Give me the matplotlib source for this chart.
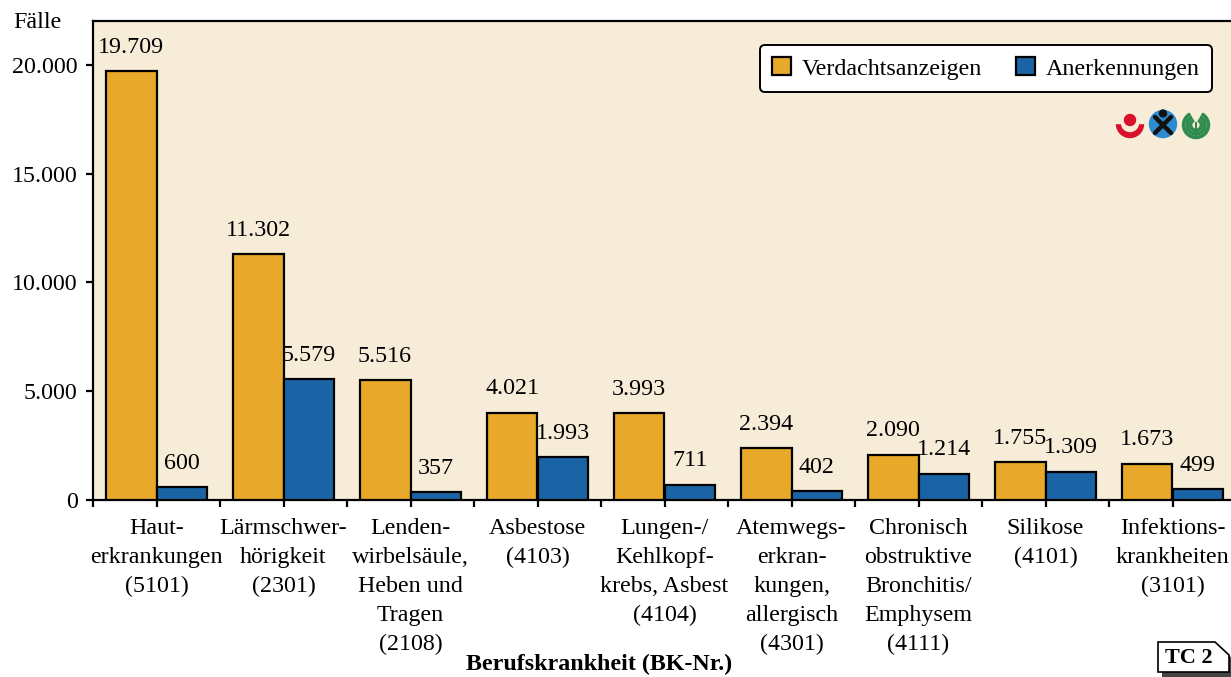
import matplotlib.pyplot as plt
import numpy as np
from matplotlib.patches import Circle, Wedge, Polygon, Rectangle
from matplotlib.ticker import FuncFormatter

plt.rcParams['font.family'] = ['Liberation Serif', 'DejaVu Serif']
FS = 17.3
plt.rcParams['font.size'] = FS

categories = [
    "Haut-\nerkrankungen\n(5101)",
    "Lärmschwer-\nhörigkeit\n(2301)",
    "Lenden-\nwirbelsäule,\nHeben und\nTragen\n(2108)",
    "Asbestose\n(4103)",
    "Lungen-/\nKehlkopf-\nkrebs, Asbest\n(4104)",
    "Atemwegs-\nerkran-\nkungen,\nallergisch\n(4301)",
    "Chronisch\nobstruktive\nBronchitis/\nEmphysem\n(4111)",
    "Silikose\n(4101)",
    "Infektions-\nkrankheiten\n(3101)",
]
verdacht = [19709, 11302, 5516, 4021, 3993, 2394, 2090, 1755, 1673]
anerkannt = [600, 5579, 357, 1993, 711, 402, 1214, 1309, 499]

ORANGE = "#E8A82A"
BLUE = "#1A64A6"
BG = "#F7ECD8"

W, H = 1231, 677
fig = plt.figure(figsize=(W / 100, H / 100), dpi=100)
ax = fig.add_axes([93 / W, 1 - 500 / H, (1236 - 93) / W, (500 - 21) / H])
ax.set_facecolor(BG)

x = np.arange(len(categories))
bw = 0.4
b1 = ax.bar(x - bw / 2, verdacht, bw, color=ORANGE, edgecolor="black", linewidth=1.6,
            label="Verdachtsanzeigen", zorder=3)
b2 = ax.bar(x + bw / 2, anerkannt, bw, color=BLUE, edgecolor="black", linewidth=1.6,
            label="Anerkennungen", zorder=3)

def de_num(v):
    return f"{int(v):,}".replace(",", ".")

for bars, vals in ((b1, verdacht), (b2, anerkannt)):
    for rect, v in zip(bars, vals):
        ax.annotate(de_num(v), (rect.get_x() + rect.get_width() / 2, v),
                    xytext=(0, 17), textcoords="offset points",
                    ha="center", va="center", fontsize=FS)

ax.set_xlim(-0.5, len(categories) - 0.5)
ax.set_ylim(0, 22020)
ax.set_yticks([0, 5000, 10000, 15000, 20000])
ax.yaxis.set_major_formatter(FuncFormatter(lambda v, p: de_num(v)))

# ticks at group borders and group centres, labels only at centres
pos = np.arange(-0.5, len(categories), 0.5)
labels = []
for p in pos:
    if float(p).is_integer():
        labels.append(categories[int(p)])
    else:
        labels.append("")
ax.set_xticks(pos)
ax.set_xticklabels(labels, linespacing=1.5, fontsize=FS)
ax.tick_params(axis="both", direction="out", length=5, width=1.6, labelsize=FS)
ax.tick_params(axis="x", pad=8)
ax.tick_params(axis="y", pad=6)

for s in ("left", "top", "bottom"):
    ax.spines[s].set_linewidth(1.6)
ax.spines["right"].set_visible(False)

fig.text(13 / W, 1 - 22 / H, "Fälle", ha="left", va="center", fontsize=FS)
fig.text(599 / W, 1 - 664 / H, "Berufskrankheit (BK-Nr.)", ha="center", va="center",
         fontsize=FS, fontweight="bold")

leg = ax.legend(loc="upper right", bbox_to_anchor=(1212 / W, 1 - 45 / H),
                bbox_transform=fig.transFigure, borderaxespad=0, ncol=2,
                frameon=True, fancybox=True,
                handlelength=0.8, handleheight=0.8, handletextpad=0.45,
                columnspacing=1.4, borderpad=0.5, fontsize=FS)
frame = leg.get_frame()
frame.set_edgecolor("black")
frame.set_linewidth(1.4)
frame.set_facecolor("white")
frame.set_alpha(1)
leg.set_zorder(5)

# overlay in pixel coordinates for logos and the tag
ov = fig.add_axes([0, 0, 1, 1], zorder=10)
ov.set_xlim(0, W)
ov.set_ylim(H, 0)
ov.axis("off")
ov.patch.set_alpha(0)

# red logo
ov.add_patch(Wedge((1130, 124), 13.5, 0, 180, color="#D8102C"))
ov.add_patch(Circle((1130, 123), 8.5, color=BG))
ov.add_patch(Rectangle((1115, 110), 31, 13, color=BG))
ov.add_patch(Circle((1130, 120), 5.5, color="#D8102C"))
# blue logo
ov.add_patch(Circle((1163, 124), 13.5, color="#2E8BD0"))
ov.plot([1155, 1171], [117, 133], color="#111111", lw=3.2, solid_capstyle="round")
ov.plot([1171, 1155], [117, 133], color="#111111", lw=3.2, solid_capstyle="round")
ov.add_patch(Circle((1163, 113.5), 3.5, color="#111111"))
# green logo
for r in (13.5, 10, 6.5):
    ov.add_patch(Wedge((1196, 125), r, -60, 240, width=2.2, color="#2E8B4E"))
ov.plot([1196, 1196], [123, 138], color="#2E8B4E", lw=1.5)

# tag in the bottom right corner
shadow = Polygon([(1162, 646), (1219, 646), (1233, 659), (1233, 677), (1162, 677)],
                 closed=True, facecolor="#444444", edgecolor="none")
ov.add_patch(shadow)
tag = Polygon([(1158, 642), (1215, 642), (1229, 655), (1229, 672), (1158, 672)],
              closed=True, facecolor="white", edgecolor="black", linewidth=1.2)
ov.add_patch(tag)
ov.text(1189, 658, "TC 2", ha="center", va="center", fontsize=16, fontweight="bold")

fig.savefig("out.png", dpi=100, facecolor="white")
